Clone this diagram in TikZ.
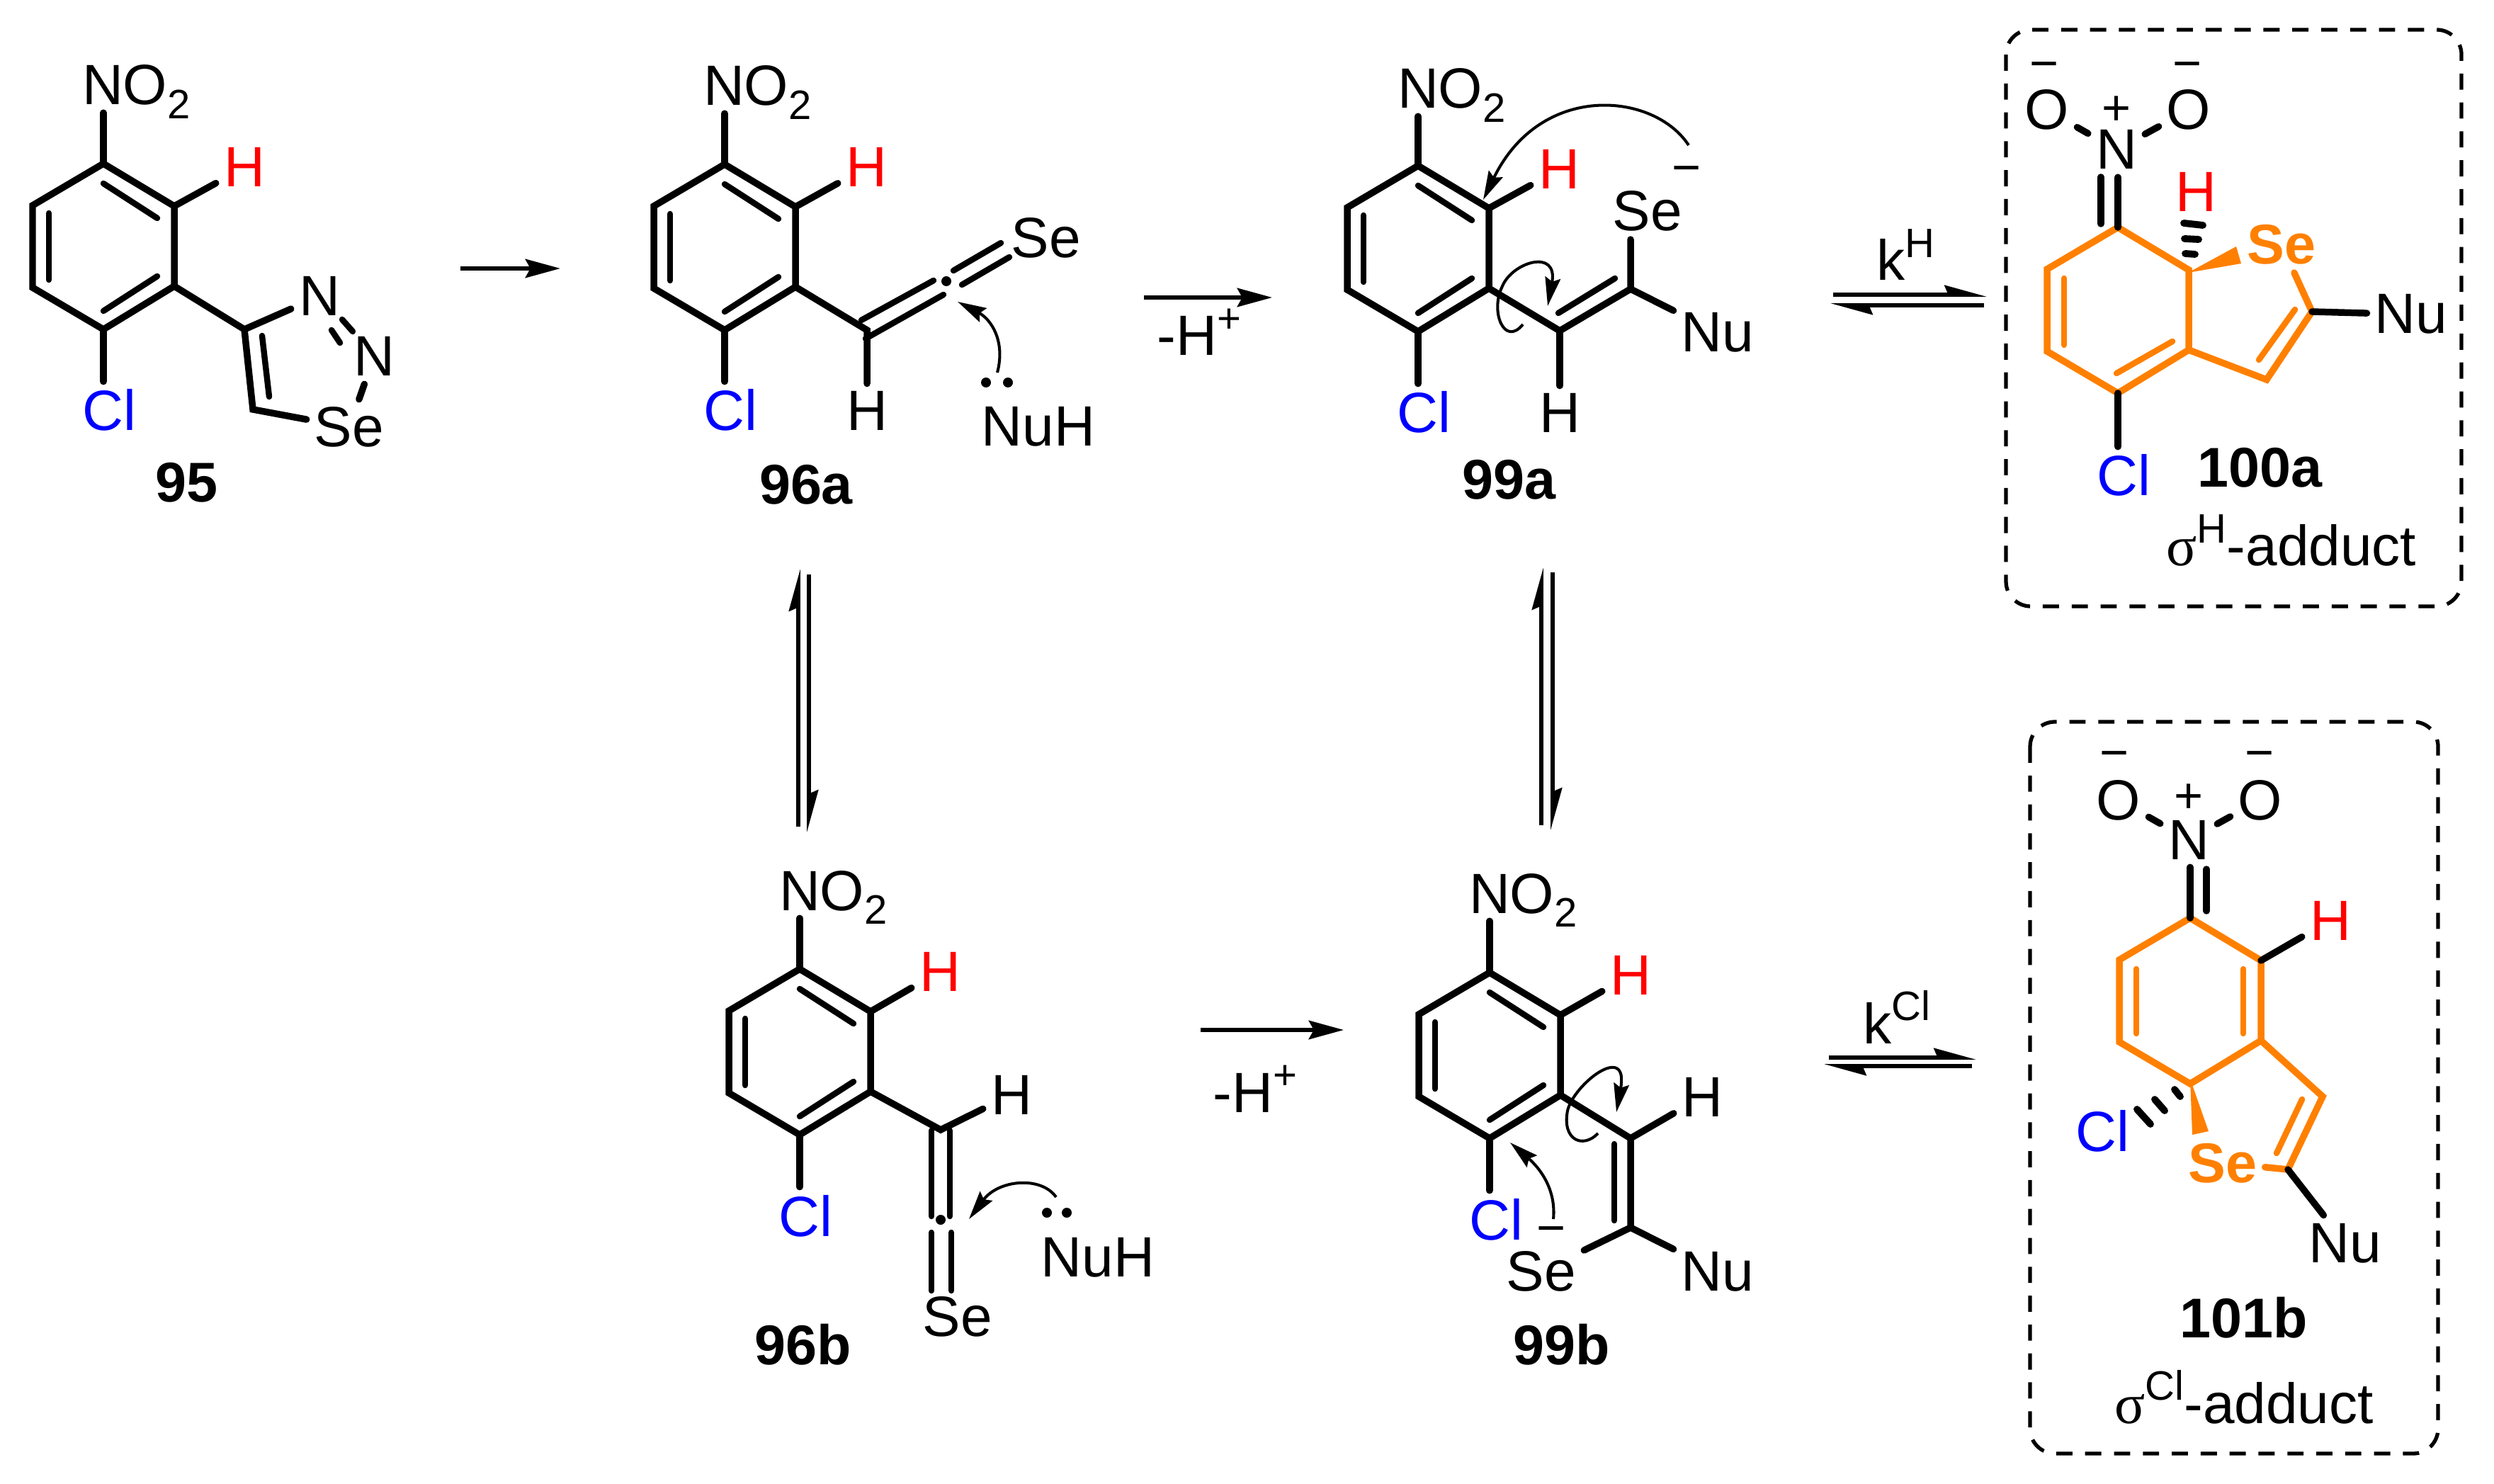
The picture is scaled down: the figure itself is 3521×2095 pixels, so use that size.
\documentclass[tikz,border=0pt]{standalone}
\usepackage{fontspec}
\usepackage{xcolor}
\usepackage{tikz}
\usetikzlibrary{arrows.meta}
\setmainfont{Liberation Sans}
\newfontfamily\greekfont{Liberation Serif}
\definecolor{adduct}{RGB}{255,128,0}
\newcommand\supsize{\fontsize{16.5}{18}\selectfont}
\newcommand\upper[1]{\raisebox{.4em}{\supsize #1}}
\newcommand\nitro{N\smash{\rlap{O\raisebox{-.245em}{\supsize 2}}}}
\newcommand\hexring[4]{%
  \begin{scope}[shift={(#2,#3)}]
    \coordinate (#1a) at (0,-117);
    \coordinate (#1b) at (100,-57);
    \coordinate (#1c) at (100,56);
    \coordinate (#1d) at (0,117);
    \coordinate (#1e) at (-100,58);
    \coordinate (#1f) at (-100,-58);
    \draw[bond,#4] (#1a) -- (#1b) -- (#1c) -- (#1d) -- (#1e) -- (#1f) -- cycle;
  \end{scope}}
\newcommand\arene[3]{%
  \hexring{#1}{#2}{#3}{}
  \begin{scope}[shift={(#2,#3)}]
    \draw[inner] (0,-89) -- (76,-40);
    \draw[inner] (76,42) -- (0,91);
    \draw[inner] (-77,-47) -- (-77,47);
  \end{scope}}

\begin{document}
\begin{tikzpicture}[
  x=0.01cm, y=-0.01cm,
  every node/.style={font=\fontsize{22.8}{26}\selectfont},
  atom/.style={anchor=base,inner sep=3pt},
  label/.style={anchor=base,inner sep=0pt,font=\fontsize{22.5}{26}\selectfont\bfseries},
  charge/.style={inner sep=0pt,font=\fontsize{20}{22}\selectfont},
  bond/.style={line width=2.7pt,line cap=round,line join=miter},
  inner/.style={line width=2.4pt,line cap=round},
  hash/.style={line width=2.8pt,line cap=round},
  rxn/.style={line width=1.6pt,-{Stealth[length=14pt,width=7.5pt,inset=2pt]}},
  eqm/.style={line width=1.6pt,-{Stealth[harpoon,length=14pt,width=7.5pt,inset=1.5pt]}},
  curly/.style={line width=1.15pt,-{Stealth[length=11.5pt,width=6.2pt,inset=1.6pt]}},
  dashbox/.style={line width=1.5pt,dash pattern=on 6.5pt off 5.1pt,rounded corners=0.35cm}
]
  \useasboundingbox (0,0) rectangle (3521,2095);

  % 95
  \arene{p}{146}{348}
  \node[atom] (nop) at (145,148) {\nitro};
  \node[atom,red] (hp) at (345,264) {H};
  \node[atom,blue] (clp) at (154,608) {Cl};
  \node[atom] (n1p) at (451,446) {N};
  \node[atom] (n2p) at (528,531) {N};
  \node[atom] (sep) at (493,631) {Se};
  \node[label] (l95) at (264,709) {95};
  \coordinate (c4p) at (345,465);
  \coordinate (c5p) at (357,578);
  \draw[bond] (pa) -- (pa |- nop.south);
  \draw[bond] (pb) -- (hp);
  \draw[bond] (pd) -- (pd |- clp.north);
  \draw[bond] (pc) -- (c4p) -- (n1p);
  \draw[bond] (c4p) -- (c5p) -- (sep);
  \draw[inner] (370,474) -- (380,560);
  \draw[inner] (483,451) -- (498,468);
  \draw[inner] (468,466) -- (480,484);
  \draw[bond] (n2p) -- (sep);

  % 96a
  \arene{q}{1023}{349}
  \node[atom] (noq) at (1022,149) {\nitro};
  \node[atom,red] (hq) at (1223,264) {H};
  \node[atom,blue] (clq) at (1031,608) {Cl};
  \node[atom] (hqb) at (1224,608) {H};
  \node[atom] (seq) at (1477,364) {Se};
  \node[atom] (nuq) at (1466,630) {NuH};
  \node[label] (l96a) at (1138,712) {96a};
  \coordinate (cq) at (1224,466);
  \draw[bond] (qa) -- (qa |- noq.south);
  \draw[bond] (qb) -- (hq);
  \draw[bond] (qd) -- (qd |- clq.north);
  \draw[bond] (qc) -- (cq) -- (cq |- hqb.north);
  \draw[inner] (1216,452) -- (1318,396);
  \draw[inner] (1222,478) -- (1332,416);
  \draw[inner] (1346,382) -- (1413,343);
  \draw[inner] (1358,402) -- (1425,363);
  \fill (1336,397) circle [radius=7];
  \fill (1392,540) circle [radius=7];
  \fill (1423,540) circle [radius=7];
  \draw[curly] (1408,526) .. controls (1420,480) and (1398,450) .. (1352,426);

  % 99a
  \arene{r}{2002}{351}
  \node[atom] (nor) at (2002,153) {\nitro};
  \node[atom,red] (hr) at (2201,267) {H};
  \node[atom,blue] (clr) at (2010,611) {Cl};
  \node[atom] (hrb) at (2202,611) {H};
  \node[atom] (ser) at (2326,326) {Se};
  \node[atom] (nur) at (2425,497) {Nu};
  \node[charge] (mr) at (2381,248) {−};
  \node[label] (l99a) at (2130,705) {99a};
  \coordinate (cr1) at (2202,467);
  \coordinate (cr2) at (2302,408);
  \draw[bond] (ra) -- (ra |- nor.south);
  \draw[bond] (rb) -- (hr);
  \draw[bond] (rd) -- (rd |- clr.north);
  \draw[bond] (rc) -- (cr1) -- (cr2) -- (cr2 |- ser.south);
  \draw[bond] (cr1) -- (cr1 |- hrb.north);
  \draw[bond] (cr2) -- (nur);
  \draw[inner] (2200,442) -- (2280,393);
  \draw[curly] (2384,205) .. controls (2335,130) and (2175,115) .. (2094,282);
  \draw[curly] (2150,458) .. controls (2124,490) and (2103,440) .. (2121,404)
    .. controls (2135,370) and (2200,350) .. (2185,432);

  % 100a
  \hexring{s}{2990}{438}{adduct}
  \draw[inner,adduct] (2914,393) -- (2914,487);
  \draw[inner,adduct] (3067,482) -- (2988,527);
  \node[atom] (ns) at (2988,239) {N};
  \node[atom] (ols) at (2890,183) {O};
  \node[atom] (ors) at (3090,183) {O};
  \node[charge] (ps) at (2988,156) {+};
  \node[charge] (m1s) at (2886,101) {−};
  \node[charge] (m2s) at (3088,101) {−};
  \node[atom,red] (hs) at (3100,299) {H};
  \node[atom,adduct,font=\fontsize{22.5}{26}\selectfont\bfseries] (ses) at (3221,373) {Se};
  \node[atom] (nus) at (3404,471) {Nu};
  \node[atom,blue] (cls) at (2998,700) {Cl};
  \node[label] (l100a) at (3190,688) {100a};
  \node[atom] (sig1) at (3235,799) {{\greekfont σ}\upper{H}-adduct};
  \coordinate (cs2) at (3264,440);
  \coordinate (cs3) at (3200,536);
  \fill[adduct] (3089,385) -- (3157,348) -- (3164,372) -- cycle;
  \draw[bond,adduct] (ses) -- (cs2) -- (cs3) -- (sc);
  \draw[inner,adduct] (3240,437) -- (3189,508);
  \draw[bond] (cs2) -- (nus);
  \draw[bond] (sa) -- (sa |- ns.south);
  \draw[bond] (2966,250) -- (2966,316);
  \draw[bond] (ns) -- (ols);
  \draw[bond] (ns) -- (ors);
  \draw[bond] (sd) -- (sd |- cls.north);
  \draw[hash] (3083,315) -- (3110,318);
  \draw[hash] (3084,337) -- (3104,338);
  \draw[hash] (3085,358) -- (3099,359);
  \draw[dashbox] (2832,42) rectangle (3475,856);

  % 96b
  \arene{t}{1129}{1485}
  \node[atom] (not) at (1129,1285) {\nitro};
  \node[atom,red] (ht) at (1327,1399) {H};
  \node[atom,blue] (clt) at (1137,1745) {Cl};
  \node[atom] (htb) at (1428,1573) {H};
  \node[atom] (set) at (1352,1886) {Se};
  \node[atom] (nut) at (1550,1802) {NuH};
  \node[label] (l96b) at (1134,1926) {96b};
  \coordinate (ct) at (1328,1595);
  \draw[bond] (ta) -- (ta |- not.south);
  \draw[bond] (tb) -- (ht);
  \draw[bond] (td) -- (td |- clt.north);
  \draw[bond] (tc) -- (ct) -- (htb);
  \draw[inner] (1315,1596) -- (1315,1717);
  \draw[inner] (1341,1596) -- (1341,1717);
  \draw[inner] (1315,1740) -- (1315,1822);
  \draw[inner] (1343,1740) -- (1343,1822);
  \fill (1328,1722) circle [radius=7];
  \fill (1478,1712) circle [radius=7];
  \fill (1506,1712) circle [radius=7];
  \draw[curly] (1491,1690) .. controls (1470,1660) and (1410,1665) .. (1368,1721);

  % 99b
  \arene{u}{2103}{1490}
  \node[atom] (nou) at (2103,1289) {\nitro};
  \node[atom,red] (hu) at (2302,1404) {H};
  \node[atom,blue] (clu) at (2112,1750) {Cl};
  \node[atom] (hub) at (2403,1576) {H};
  \node[atom] (seu) at (2176,1822) {Se};
  \node[atom] (nuu) at (2425,1822) {Nu};
  \node[charge] (mu) at (2190,1745) {−};
  \node[label] (l99b) at (2205,1926) {99b};
  \coordinate (cu1) at (2302,1607);
  \coordinate (cu2) at (2302,1733);
  \draw[bond] (ua) -- (ua |- nou.south);
  \draw[bond] (ub) -- (hu);
  \draw[bond] (ud) -- (ud |- clu.north);
  \draw[bond] (uc) -- (cu1) -- (hub);
  \draw[bond] (cu1) -- (cu2) -- (seu);
  \draw[bond] (cu2) -- (nuu);
  \draw[inner] (2279,1615) -- (2279,1723);
  \draw[curly] (2193,1721) .. controls (2197,1680) and (2175,1650) .. (2132,1613);
  \draw[curly] (2256,1600) .. controls (2235,1622) and (2205,1610) .. (2213,1568)
    .. controls (2222,1530) and (2300,1470) .. (2282,1570);

  % 101b
  \hexring{v}{3092}{1413}{adduct}
  \draw[inner,adduct] (3016,1368) -- (3016,1459);
  \draw[inner,adduct] (3167,1368) -- (3167,1459);
  \node[atom] (nv) at (3090,1213) {N};
  \node[atom] (olv) at (2991,1157) {O};
  \node[atom] (orv) at (3191,1157) {O};
  \node[charge] (pv) at (3090,1127) {+};
  \node[charge] (m1v) at (2985,1074) {−};
  \node[charge] (m2v) at (3190,1074) {−};
  \node[atom,red] (hv) at (3290,1327) {H};
  \node[atom,adduct,font=\fontsize{22.5}{26}\selectfont\bfseries] (sev) at (3138,1669) {Se};
  \node[atom] (nuv) at (3311,1782) {Nu};
  \node[atom,blue] (clv) at (2968,1625) {Cl};
  \node[label] (l101b) at (3168,1888) {101b};
  \node[atom] (sig2) at (3168,2009) {{\greekfont σ}\upper{Cl}-adduct};
  \coordinate (cv2) at (3279,1548);
  \coordinate (cv3) at (3230,1651);
  \fill[adduct] (3092,1523) -- (3095,1602) -- (3118,1597) -- cycle;
  \draw[bond,adduct] (vc) -- (cv2) -- (cv3) -- (sev);
  \draw[inner,adduct] (3250,1552) -- (3214,1628);
  \draw[bond] (cv3) -- (nuv);
  \draw[bond] (va) -- (va |- nv.south);
  \draw[bond] (3115,1227) -- (3115,1286);
  \draw[bond] (nv) -- (olv);
  \draw[bond] (nv) -- (orv);
  \draw[bond] (vb) -- (hv);
  \draw[hash] (3070,1538) -- (3078,1548);
  \draw[hash] (3042,1552) -- (3056,1568);
  \draw[hash] (3017,1566) -- (3036,1587);
  \draw[dashbox] (2866,1019) rectangle (3442,2052);

  % arrows
  \coordinate (a1s) at (650,379);
  \coordinate (a1e) at (791,379);
  \coordinate (a2s) at (1615,420);
  \coordinate (a2e) at (1796,420);
  \coordinate (a3s) at (1695,1454);
  \coordinate (a3e) at (1897,1454);
  \draw[rxn] (a1s) -- (a1e);
  \draw[rxn] (a2s) -- (a2e);
  \draw[rxn] (a3s) -- (a3e);
  \node[anchor=base,inner sep=0pt] (lossa) at (1693,502) {-H\upper{+}};
  \node[anchor=base,inner sep=0pt] (lossb) at (1772,1570) {-H\upper{+}};

  \coordinate (e1a) at (2588,416);
  \coordinate (e1b) at (2805,416);
  \coordinate (e1c) at (2801,431);
  \coordinate (e1d) at (2584,431);
  \draw[eqm] (e1a) -- (e1b);
  \draw[eqm] (e1c) -- (e1d);
  \node[anchor=base,inner sep=0pt] (kh) at (2690,396) {k\upper{H}};

  \coordinate (e2a) at (2582,1493);
  \coordinate (e2b) at (2790,1493);
  \coordinate (e2c) at (2784,1505);
  \coordinate (e2d) at (2575,1505);
  \draw[eqm] (e2a) -- (e2b);
  \draw[eqm] (e2c) -- (e2d);
  \node[anchor=base,inner sep=0pt] (kcl) at (2678,1473) {k\upper{Cl}};

  \coordinate (e3a) at (1127,1167);
  \coordinate (e3b) at (1127,803);
  \coordinate (e3c) at (1142,811);
  \coordinate (e3d) at (1142,1175);
  \draw[eqm] (e3a) -- (e3b);
  \draw[eqm] (e3c) -- (e3d);

  \coordinate (e4a) at (2176,1165);
  \coordinate (e4b) at (2176,801);
  \coordinate (e4c) at (2192,808);
  \coordinate (e4d) at (2192,1172);
  \draw[eqm] (e4a) -- (e4b);
  \draw[eqm] (e4c) -- (e4d);
\end{tikzpicture}
\end{document}
